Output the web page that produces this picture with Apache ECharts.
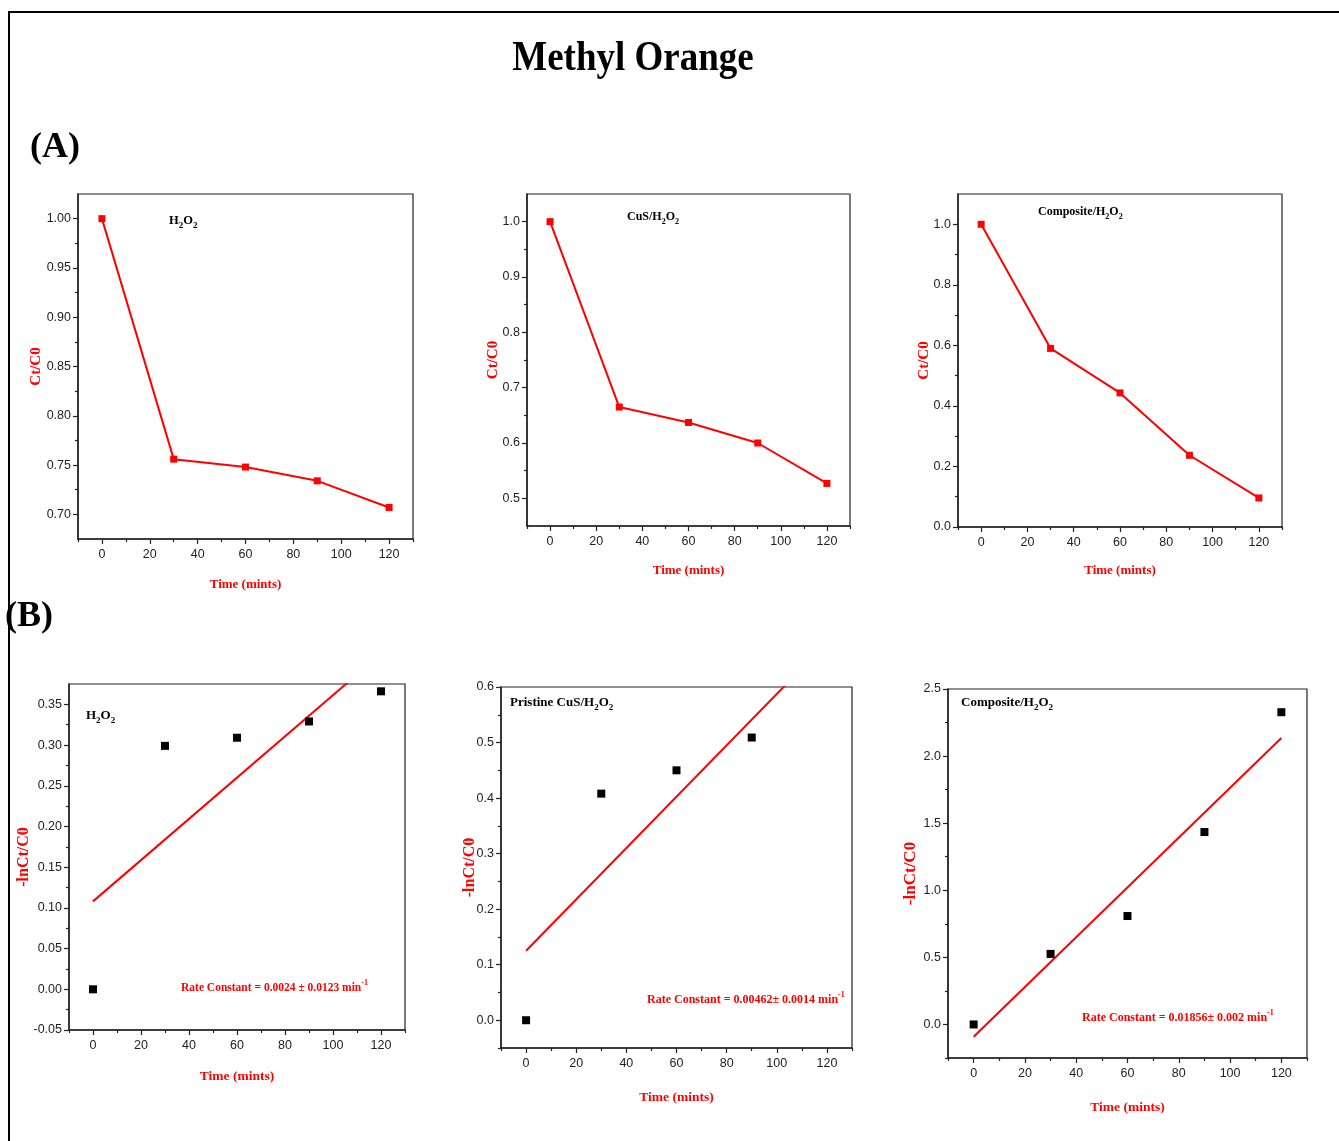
<!DOCTYPE html>
<html><head><meta charset="utf-8">
<script src="https://cdn.jsdelivr.net/npm/echarts@6/dist/echarts.min.js"></script>
<style>html,body{margin:0;padding:0;background:#fff}#c{width:1339px;height:1141px}</style>
</head><body><div id="c"></div>
<script>
// ---------------- data ----------------
const timeMin = [0, 30, 60, 90, 120];
const timeCuSFit = [0, 30, 60, 90];
const fitTime = [0, 120];

// (A) Ct/C0
const ctH2O2 = [1.000, 0.756, 0.748, 0.734, 0.707];
const ctCuS = [1.000, 0.665, 0.637, 0.600, 0.527];
const ctComposite = [1.000, 0.590, 0.443, 0.237, 0.096];

// (B) -ln(Ct/C0)
const lnH2O2 = [0.000, 0.299, 0.309, 0.329, 0.366];
const lnCuS = [0.000, 0.408, 0.450, 0.509];
const lnComposite = [0.000, 0.526, 0.808, 1.434, 2.327];

// fitted lines (values at t = 0 and t = 120)
const fitH2O2 = [0.108, 0.412];
const fitCuS = [0.125, 0.680];
const fitComposite = [-0.092, 2.135];

// tick labels
const xTicks = [0, 20, 40, 60, 80, 100, 120];
const xMinor = [-10, 10, 30, 50, 70, 90, 110, 130];
const yTicksA1 = [0.70, 0.75, 0.80, 0.85, 0.90, 0.95, 1.00];
const yMinorA1 = [0.725, 0.775, 0.825, 0.875, 0.925, 0.975];
const yTicksA2 = [0.5, 0.6, 0.7, 0.8, 0.9, 1.0];
const yMinorA2 = [0.55, 0.65, 0.75, 0.85, 0.95];
const yTicksA3 = [0.0, 0.2, 0.4, 0.6, 0.8, 1.0];
const yMinorA3 = [0.1, 0.3, 0.5, 0.7, 0.9];
const yTicksB1 = [-0.05, 0.00, 0.05, 0.10, 0.15, 0.20, 0.25, 0.30, 0.35];
const yMinorB1 = [-0.025, 0.025, 0.075, 0.125, 0.175, 0.225, 0.275, 0.325];
const yTicksB2 = [0.0, 0.1, 0.2, 0.3, 0.4, 0.5, 0.6];
const yMinorB2 = [-0.05, 0.05, 0.15, 0.25, 0.35, 0.45, 0.55];
const yTicksB3 = [0.0, 0.5, 1.0, 1.5, 2.0, 2.5];
const yMinorB3 = [-0.25, 0.25, 0.75, 1.25, 1.75, 2.25];

// ---------------- layout / style ----------------
const TICK_FONT = "'Liberation Sans',Arial,sans-serif";
const SERIF = "'Liberation Serif','Times New Roman',serif";
const RED = '#ff0000';
const AX = '#222';

const panels = [
  {grid: {left: 78, top: 194, width: 335, height: 345}, yMin: 0.675, yMax: 1.025, yT: yTicksA1, yM: yMinorA1, dec: 2,
   yName: 'Ct/C0', yGap: 34, xGap: 39, xSize: 13, ySize: 15},
  {grid: {left: 527, top: 194, width: 323, height: 332}, yMin: 0.45, yMax: 1.05, yT: yTicksA2, yM: yMinorA2, dec: 1,
   yName: 'Ct/C0', yGap: 26, xGap: 38, xSize: 13, ySize: 15},
  {grid: {left: 958, top: 194, width: 324, height: 333}, yMin: 0, yMax: 1.1, yT: yTicksA3, yM: yMinorA3, dec: 1,
   yName: 'Ct/C0', yGap: 26, xGap: 37, xSize: 13, ySize: 15},
  {grid: {left: 69, top: 684, width: 336, height: 346}, yMin: -0.05, yMax: 0.375, yT: yTicksB1, yM: yMinorB1, dec: 2,
   yName: '-lnCt/C0', yGap: 37, xGap: 40, xSize: 13.5, ySize: 16},
  {grid: {left: 501, top: 687, width: 351, height: 361}, yMin: -0.05, yMax: 0.6, yT: yTicksB2, yM: yMinorB2, dec: 1,
   yName: '-lnCt/C0', yGap: 23, xGap: 43, xSize: 13.5, ySize: 16},
  {grid: {left: 948, top: 689, width: 359, height: 369}, yMin: -0.25, yMax: 2.5, yT: yTicksB3, yM: yMinorB3, dec: 1,
   yName: '-lnCt/C0', yGap: 29, xGap: 43, xSize: 13.5, ySize: 17}
];

const grids = [], xAxes = [], yAxes = [], series = [];

function nameStyle(size) {
  return {color: RED, fontFamily: SERIF, fontWeight: 'bold', fontSize: size};
}

panels.forEach((p, i) => {
  grids.push(Object.assign({show: true, borderColor: AX, borderWidth: 1.2, backgroundColor: 'transparent'}, p.grid));
  // x axes
  xAxes.push({
    type: 'value', gridIndex: i, min: -10, max: 130, position: 'bottom',
    axisLine: {show: true, onZero: false, lineStyle: {color: AX, width: 1.5}},
    axisTick: {show: true, inside: false, length: 5, customValues: xTicks, lineStyle: {color: AX, width: 1.2}},
    axisLabel: {customValues: xTicks, formatter: v => String(Math.round(v)), fontFamily: TICK_FONT, fontSize: 12.5, color: AX, margin: 9},
    splitLine: {show: false},
    name: 'Time (mints)', nameLocation: 'middle', nameGap: p.xGap, nameMoveOverlap: false,
    nameTextStyle: nameStyle(p.xSize)
  });
  xAxes.push({
    type: 'value', gridIndex: i, min: -10, max: 130, position: 'bottom',
    axisLine: {show: false, onZero: false},
    axisTick: {show: true, inside: false, length: 3, customValues: xMinor, lineStyle: {color: AX, width: 1.2}},
    axisLabel: {show: false}, splitLine: {show: false}
  });
  // y axes
  yAxes.push({
    type: 'value', gridIndex: i, min: p.yMin, max: p.yMax, position: 'left',
    axisLine: {show: true, onZero: false, lineStyle: {color: AX, width: 1.5}},
    axisTick: {show: true, inside: false, length: 5, customValues: p.yT, lineStyle: {color: AX, width: 1.2}},
    axisLabel: {customValues: p.yT, formatter: v => v.toFixed(p.dec), fontFamily: TICK_FONT, fontSize: 12.5, color: AX, margin: 7},
    splitLine: {show: false},
    name: p.yName, nameLocation: 'middle', nameGap: p.yGap, nameMoveOverlap: false,
    nameTextStyle: nameStyle(p.ySize)
  });
  yAxes.push({
    type: 'value', gridIndex: i, min: p.yMin, max: p.yMax, position: 'left',
    axisLine: {show: false, onZero: false},
    axisTick: {show: true, inside: false, length: 3, customValues: p.yM, lineStyle: {color: AX, width: 1.2}},
    axisLabel: {show: false}, splitLine: {show: false}
  });
});

function pairs(xs, ys) { return xs.map((x, k) => [x, ys[k]]); }

function lineSeries(i, ys) {
  return {
    type: 'line', xAxisIndex: 2 * i, yAxisIndex: 2 * i, data: pairs(timeMin, ys),
    symbol: 'rect', symbolSize: 7, showSymbol: true,
    lineStyle: {color: RED, width: 2}, itemStyle: {color: RED}, z: 3
  };
}
function scatterSeries(i, xs, ys) {
  return {
    type: 'scatter', xAxisIndex: 2 * i, yAxisIndex: 2 * i, data: pairs(xs, ys),
    symbol: 'rect', symbolSize: 8, itemStyle: {color: '#000', opacity: 1}, z: 4
  };
}
function fitSeries(i, ys) {
  return {
    type: 'line', xAxisIndex: 2 * i, yAxisIndex: 2 * i, data: pairs(fitTime, ys),
    symbol: 'none', clip: true, lineStyle: {color: RED, width: 2}, z: 3
  };
}

series.push(lineSeries(0, ctH2O2));
series.push(lineSeries(1, ctCuS));
series.push(lineSeries(2, ctComposite));
series.push(fitSeries(3, fitH2O2));
series.push(scatterSeries(3, timeMin, lnH2O2));
series.push(fitSeries(4, fitCuS));
series.push(scatterSeries(4, timeCuSFit, lnCuS));
series.push(fitSeries(5, fitComposite));
series.push(scatterSeries(5, timeMin, lnComposite));

// ---------------- text annotations ----------------
function richFor(size, color) {
  return {
    n: {fontFamily: SERIF, fontWeight: 'bold', fontSize: size, fill: color, lineHeight: 18, verticalAlign: 'middle'},
    sub: {fontFamily: SERIF, fontWeight: 'bold', fontSize: Math.round(size * 0.68), fill: color, lineHeight: 9, verticalAlign: 'bottom'},
    sup: {fontFamily: SERIF, fontWeight: 'bold', fontSize: Math.round(size * 0.68), fill: color, lineHeight: 9, verticalAlign: 'top'}
  };
}
function label(x, y, text, size, color) {
  return {
    type: 'text', x: x, y: y, z: 10,
    style: {text: text, align: 'left', verticalAlign: 'middle', rich: richFor(size, color)}
  };
}
const h2o2 = '{n|H}{sub|2}{n|O}{sub|2}';

const graphics = [
  {type: 'polyline', shape: {points: [[9, 1141], [9, 12], [1339, 12]]}, style: {stroke: '#000', lineWidth: 2, fill: null}},
  {type: 'text', x: 633, y: 59, originX: 0, originY: 0, scaleY: 1.12,
    style: {text: 'Methyl Orange', x: 0, y: 0, align: 'center', verticalAlign: 'middle', font: 'bold 37px ' + SERIF, fill: '#000'}},
  {type: 'text', x: 30, y: 148, style: {text: '(A)', align: 'left', verticalAlign: 'middle', font: 'bold 36px ' + SERIF, fill: '#000'}},
  {type: 'text', x: 5, y: 617, style: {text: '(B)', align: 'left', verticalAlign: 'middle', font: 'bold 36px ' + SERIF, fill: '#000'}},
  label(169, 221, h2o2, 12.5, '#000'),
  label(627, 217, '{n|CuS/}' + h2o2, 12, '#000'),
  label(1038, 212, '{n|Composite/}' + h2o2, 12, '#000'),
  label(86, 716, h2o2, 13, '#000'),
  label(510, 703, '{n|Pristine CuS/}' + h2o2, 13, '#000'),
  label(961, 703, '{n|Composite/}' + h2o2, 13, '#000'),
  label(181, 988, '{n|Rate Constant = 0.0024 ± 0.0123 min}{sup|-1}', 11.5, RED),
  label(647, 1000, '{n|Rate Constant = 0.00462± 0.0014 min}{sup|-1}', 12, RED),
  label(1082, 1018, '{n|Rate Constant = 0.01856± 0.002 min}{sup|-1}', 12, RED)
];

const chart = echarts.init(document.getElementById('c'), null, {renderer: 'canvas'});
chart.setOption({
  animation: false,
  backgroundColor: '#fff',
  grid: grids,
  xAxis: xAxes,
  yAxis: yAxes,
  series: series,
  graphic: graphics
});
</script>
</body></html>
